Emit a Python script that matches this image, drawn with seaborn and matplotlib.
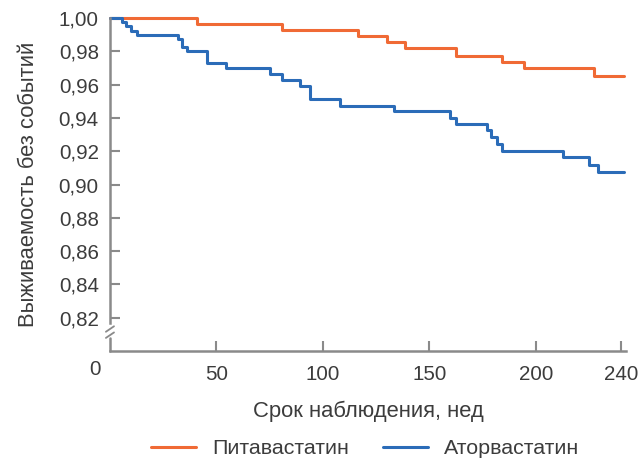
import numpy as np
import pandas as pd
import matplotlib
matplotlib.use("Agg")
import matplotlib.pyplot as plt
import seaborn as sns
from matplotlib.ticker import FuncFormatter

# Kaplan-Meier step data (weeks, survival)
pita_t = [0, 40.9, 81.0, 116.4, 130.0, 138.7, 162.3, 184.3, 194.5, 227.5, 241.5]
pita_s = [1.0, 0.9964, 0.9928, 0.9892, 0.9854, 0.9822, 0.9774, 0.9738, 0.9698, 0.9652, 0.9652]

ator_t = [0, 5.5, 7.5, 10.0, 12.5, 32.0, 33.8, 36.0, 45.4, 54.6, 75.3, 81.0, 89.2, 93.9,
          108.0, 133.2, 159.6, 162.3, 176.9, 178.8, 181.9, 184.3, 212.6, 225.2, 229.1, 241.5]
ator_s = [1.0, 0.9975, 0.995, 0.9925, 0.990, 0.9872, 0.9828, 0.9804, 0.9732, 0.9698, 0.9664,
          0.9628, 0.9592, 0.9514, 0.9472, 0.9442, 0.9398, 0.9362, 0.9328, 0.9288, 0.9244,
          0.9202, 0.9164, 0.9118, 0.9074, 0.9074]

series_names = ["Питавастатин", "Аторвастатин"]
x_ticks = [50, 100, 150, 200, 240]
y_ticks = [0.82, 0.84, 0.86, 0.88, 0.90, 0.92, 0.94, 0.96, 0.98, 1.00]

colors = {"Питавастатин": "#F06A35", "Аторвастатин": "#2B6CB8"}

df = pd.concat([
    pd.DataFrame({"t": pita_t, "s": pita_s, "g": series_names[0]}),
    pd.DataFrame({"t": ator_t, "s": ator_s, "g": series_names[1]}),
])

sns.set_theme(style="white")
plt.rcParams["font.family"] = ["Liberation Sans", "DejaVu Sans"]
txt = "#3c3c3c"
axc = "#8a8a8a"

fig = plt.figure(figsize=(6.43, 4.66), dpi=100)
ax = fig.add_axes([0.171, 0.247, 0.803, 0.714])

for name in series_names:
    sub = df[df.g == name]
    sns.lineplot(data=sub, x="t", y="s", ax=ax, color=colors[name], lw=2.2,
                 drawstyle="steps-post", estimator=None, sort=False,
                 label=name, legend=False, clip_on=False)

ax.set_xlim(0, 242.5)
ax.set_ylim(0.80, 1.00)
ax.set_xticks(x_ticks)
ax.set_yticks(y_ticks)
ax.yaxis.set_major_formatter(FuncFormatter(lambda v, p: f"{v:.2f}".replace(".", ",")))
ax.tick_params(axis="both", direction="in", length=7, width=1.5, color=axc,
               labelsize=14.8, labelcolor=txt, bottom=True, left=True)
ax.tick_params(axis="x", pad=10)
ax.tick_params(axis="y", pad=8)

for sp in ["top", "right"]:
    ax.spines[sp].set_visible(False)
for sp in ["left", "bottom"]:
    ax.spines[sp].set_color(axc)
    ax.spines[sp].set_linewidth(1.8)
ax.spines["left"].set_bounds(0.8168, 1.0)

# bottom segment of broken y axis and break marks
ax.plot([0, 0], [0.80, 0.8078], color=axc, lw=1.8, clip_on=False)
ax.plot([-1.9, 1.9], [0.8115, 0.8148], color=axc, lw=1.3, clip_on=False)
ax.plot([-1.9, 1.9], [0.8078, 0.8111], color=axc, lw=1.3, clip_on=False)

ax.annotate("0", xy=(0, 0.80), xytext=(-15, -19), textcoords="offset pixels",
            ha="center", va="center", fontsize=14.8, color=txt)

ax.set_xlabel("Срок наблюдения, нед", fontsize=15.8, color=txt, labelpad=12)
ax.set_ylabel("Выживаемость без событий", fontsize=15.8, color=txt, labelpad=14)

handles, labels = ax.get_legend_handles_labels()
fig.legend(handles, labels, loc="lower center", bbox_to_anchor=(0.568, -0.025), ncol=2,
           frameon=False, fontsize=15.4, handlelength=2.1, handletextpad=0.75,
           columnspacing=1.6, labelcolor=txt)

fig.savefig("out.png", dpi=100, facecolor="white")
